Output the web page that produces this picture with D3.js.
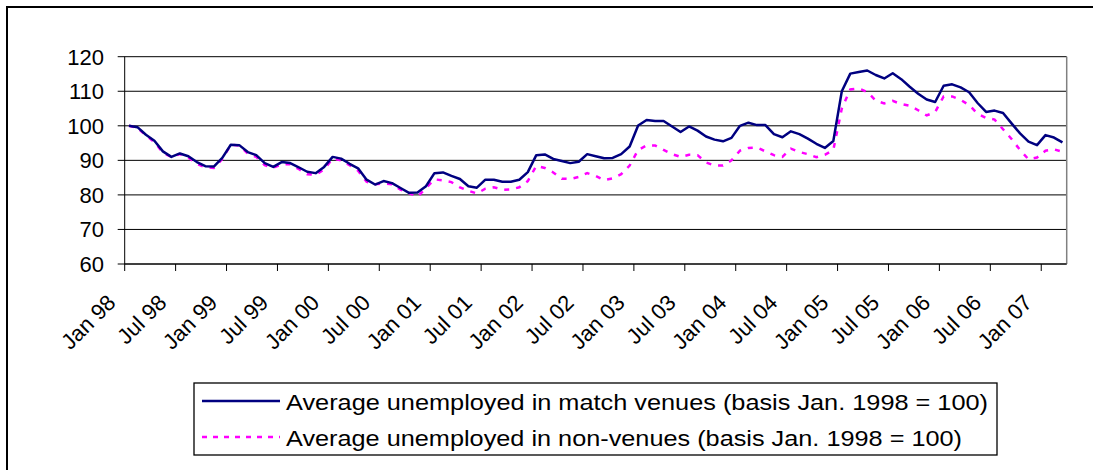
<!DOCTYPE html>
<html>
<head>
<meta charset="utf-8">
<script src="https://cdn.jsdelivr.net/npm/d3@7"></script>
<style>
  body { margin: 0; background: #fff; }
  svg text { font-family: "Liberation Sans", Arial, sans-serif; fill: #000; }
</style>
</head>
<body>
<div id="chart"></div>
<script>
// monthly index values, Jan 98 .. Mar 07 (basis Jan. 1998 = 100)
let venues = [
  100.0, 99.6, 97.4, 95.7, 92.6, 91.0, 92.0, 91.2, 89.5, 88.3, 88.2, 90.7,
  94.5, 94.4, 92.4, 91.5, 89.2, 88.1, 89.5, 89.2, 88.0, 86.7, 86.3, 88.1,
  91.0, 90.5, 89.0, 87.7, 84.4, 83.0, 84.0, 83.4, 82.0, 80.6, 80.7, 82.5,
  86.3, 86.5, 85.5, 84.6, 82.5, 82.1, 84.4, 84.4, 83.8, 83.8, 84.4, 86.6,
  91.5, 91.7, 90.4, 89.8, 89.2, 89.6, 91.8, 91.2, 90.6, 90.7, 91.8, 94.0,
  100.1, 101.7, 101.4, 101.4, 99.8, 98.2, 99.8, 98.6, 96.9, 96.0, 95.5, 96.5,
  100.0, 100.9, 100.2, 100.2, 97.6, 96.7, 98.4, 97.6, 96.3, 94.8, 93.6, 95.6,
  110.0, 115.1, 115.6, 116.0, 114.7, 113.7, 115.2, 113.5, 111.3, 109.3, 107.6, 106.9,
  111.6, 112.0, 111.1, 109.7, 106.6, 104.0, 104.4, 103.7, 100.7, 97.8, 95.4, 94.4,
  97.3, 96.6, 95.2
];
let nonVenues = [
  100.0, 99.4, 97.2, 95.3, 92.2, 91.0, 91.8, 90.8, 89.0, 88.0, 87.8, 90.4,
  94.5, 94.3, 92.0, 91.0, 88.6, 87.9, 88.8, 88.9, 87.5, 86.0, 85.8, 87.4,
  90.5, 90.0, 88.6, 87.0, 83.8, 83.1, 83.3, 83.1, 81.5, 80.5, 79.5, 82.0,
  84.5, 84.2, 83.7, 82.2, 81.2, 80.4, 81.8, 82.2, 81.5, 81.6, 82.2, 84.0,
  88.4, 87.8, 86.5, 84.7, 84.6, 85.2, 86.3, 85.5, 84.3, 84.8, 86.0, 88.5,
  93.0, 94.3, 94.3, 93.0, 91.8, 91.0, 91.6, 91.5, 89.4, 88.5, 88.5, 90.0,
  92.8, 93.6, 93.7, 92.6, 91.5, 91.0, 93.4, 92.4, 91.8, 90.9, 91.6, 93.0,
  105.0, 110.5, 110.8, 109.8, 107.3, 106.5, 107.2, 106.3, 105.8, 104.5, 103.0, 104.0,
  108.5, 108.5, 107.5, 106.0, 103.5, 102.3, 101.8, 99.0, 96.2, 93.0, 90.3, 90.8,
  92.8, 93.2, 92.5
];
let tickLabels = ['Jan 98','Jul 98','Jan 99','Jul 99','Jan 00','Jul 00','Jan 01','Jul 01','Jan 02','Jul 02',
  'Jan 03','Jul 03','Jan 04','Jul 04','Jan 05','Jul 05','Jan 06','Jul 06','Jan 07'];
let yTicks = [60, 70, 80, 90, 100, 110, 120];
let seriesNames = ['Average unemployed in match venues (basis Jan. 1998 = 100)',
  'Average unemployed in non-venues (basis Jan. 1998 = 100)'];

let W = 1093, H = 470;
let plotL = 124.7, plotR = 1066.7, plotT = 56.7, plotB = 264;

let svg = d3.select('#chart').append('svg').attr('width', W).attr('height', H);

// outer frame (only top and left edges fall inside the picture)
svg.append('rect').attr('x', 7).attr('y', 7).attr('width', 1200).attr('height', 600)
  .attr('fill', 'none').attr('stroke', '#000').attr('stroke-width', 2);

let x = d3.scaleBand().domain(d3.range(venues.length)).range([plotL, plotR]).padding(0);
let y = d3.scaleLinear().domain([60, 120]).range([plotB, plotT]);
let cx = i => x(i) + x.bandwidth() / 2;

// gridlines + y ticks
svg.selectAll('.grid').data(yTicks).enter().append('line')
  .attr('x1', plotL - 7).attr('x2', plotR)
  .attr('y1', d => y(d)).attr('y2', d => y(d))
  .attr('stroke', '#000').attr('stroke-width', 1);
svg.selectAll('.ylab').data(yTicks).enter().append('text')
  .attr('x', 104).attr('y', d => y(d)).attr('dy', '0.36em')
  .attr('text-anchor', 'end').attr('font-size', '22px').text(d => d);

// plot border right, axes
svg.append('line').attr('x1', plotR).attr('x2', plotR).attr('y1', plotT).attr('y2', plotB)
  .attr('stroke', '#808080').attr('stroke-width', 1.5);
svg.append('line').attr('x1', plotL).attr('x2', plotL).attr('y1', plotT).attr('y2', plotB)
  .attr('stroke', '#000').attr('stroke-width', 1);
svg.append('line').attr('x1', plotL).attr('x2', plotR).attr('y1', plotB).attr('y2', plotB)
  .attr('stroke', '#000').attr('stroke-width', 1);

// x ticks every 6 months at category boundaries
svg.selectAll('.xtick').data(tickLabels).enter().append('line')
  .attr('x1', (d, k) => x(k * 6)).attr('x2', (d, k) => x(k * 6))
  .attr('y1', plotB).attr('y2', plotB + 7)
  .attr('stroke', '#000').attr('stroke-width', 1);
svg.selectAll('.xlab').data(tickLabels).enter().append('text')
  .attr('transform', (d, k) => 'translate(' + (cx(k * 6) - 12) + ',' + (plotB + 40) + ') rotate(-45)')
  .attr('text-anchor', 'end').attr('font-size', '22px').text(d => d);

// series
let line = d3.line().x((d, i) => cx(i)).y(d => y(d));
svg.append('path').datum(nonVenues).attr('d', line)
  .attr('fill', 'none').attr('stroke', '#FF00FF').attr('stroke-width', 2.5)
  .attr('stroke-dasharray', '5,7');
svg.append('path').datum(venues).attr('d', line)
  .attr('fill', 'none').attr('stroke', '#000080').attr('stroke-width', 2.5)
  .attr('stroke-linejoin', 'round');

// legend
svg.append('rect').attr('x', 194).attr('y', 383).attr('width', 803).attr('height', 72)
  .attr('fill', '#fff').attr('stroke', '#000').attr('stroke-width', 1.3);
svg.append('line').attr('x1', 202).attr('x2', 280).attr('y1', 401).attr('y2', 401)
  .attr('stroke', '#000080').attr('stroke-width', 2.5);
svg.append('line').attr('x1', 202).attr('x2', 280).attr('y1', 437).attr('y2', 437)
  .attr('stroke', '#FF00FF').attr('stroke-width', 2.5).attr('stroke-dasharray', '5,6');
svg.append('text').attr('x', 286).attr('y', 410).attr('font-size', '22px')
  .attr('textLength', 702).attr('lengthAdjust', 'spacingAndGlyphs').text(seriesNames[0]);
svg.append('text').attr('x', 286).attr('y', 446).attr('font-size', '22px')
  .attr('textLength', 676).attr('lengthAdjust', 'spacingAndGlyphs').text(seriesNames[1]);
</script>
</body>
</html>
